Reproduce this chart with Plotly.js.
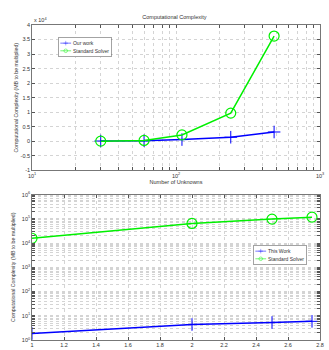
<!DOCTYPE html>
<html><head><meta charset="utf-8">
<script src="https://cdn.plot.ly/plotly-3.0.1.min.js"></script>
<style>html,body{margin:0;padding:0;background:#fff}#c{width:329px;height:350px}</style>
</head><body><div id="c"></div>
<script>
// Top chart data (values in units, axis shows x10^4)
const topUnknowns = [30, 60, 110, 240, 480];
const topOurWork = [100, 200, 600, 1400, 3200];
const topStandard = [50, 300, 2200, 9700, 36200];
const topYTickVals = [-10000, -5000, 0, 5000, 10000, 15000, 20000, 25000, 30000, 35000, 40000];
const topYTickText = ["-1", "-0.5", "0", "0.5", "1", "1.5", "2", "2.5", "3", "3.5", "4"];
const topXTickVals = [10, 20, 30, 40, 50, 60, 70, 80, 90, 100, 200, 300, 400, 500, 600, 700, 800, 900, 1000];
const topXTickText = ["10<sup>1</sup>", "", "", "", "", "", "", "", "", "10<sup>2</sup>", "", "", "", "", "", "", "", "", "10<sup>3</sup>"];

// Bottom chart data
const botX = [1, 2, 2.5, 2.75];
const botThisWork = [1.86, 4.37, 5.25, 5.89];
const botStandard = [15800, 64600, 97700, 117500];
const botYDecades = [1, 10, 100, 1000, 10000, 100000, 1000000];
const botYDecadeText = ["10<sup>0</sup>", "10<sup>1</sup>", "10<sup>2</sup>", "10<sup>3</sup>", "10<sup>4</sup>", "10<sup>5</sup>", "10<sup>6</sup>"];
const botYMinorMultipliers = [2, 3, 4, 5, 6, 7, 8, 9];
const botXTickVals = [1, 1.2, 1.4, 1.6, 1.8, 2, 2.2, 2.4, 2.6, 2.8];

// build tick arrays for the log axis (grid positions, not data)
const botYTickVals = [], botYTickText = [];
botYDecades.forEach((d, i) => {
  botYTickVals.push(d); botYTickText.push(botYDecadeText[i]);
  if (i < botYDecades.length - 1) botYMinorMultipliers.forEach(m => { botYTickVals.push(d * m); botYTickText.push(""); });
});

const blue = '#0000ff', green = '#00f000';
const tf = {family: 'Liberation Sans, Arial', size: 5.5, color: '#333'};
const gridc = '#d4d4d4';

const traces = [
  {x: topUnknowns, y: topOurWork, xaxis: 'x', yaxis: 'y', name: 'Our work', mode: 'lines+markers',
   line: {color: blue, width: 1.5}, marker: {symbol: 'cross-thin-open', size: 9, color: blue, line: {color: blue, width: 1}}, legend: 'legend'},
  {x: topUnknowns, y: topStandard, xaxis: 'x', yaxis: 'y', name: 'Standard Solver', mode: 'lines+markers',
   line: {color: green, width: 1.5}, marker: {symbol: 'circle-open', size: 10, color: green, line: {color: green, width: 1.2}}, legend: 'legend'},
  {x: botX, y: botThisWork, xaxis: 'x2', yaxis: 'y2', name: 'This Work', mode: 'lines+markers',
   line: {color: blue, width: 1.5}, marker: {symbol: 'cross-thin-open', size: 9, color: blue, line: {color: blue, width: 1}}, legend: 'legend2'},
  {x: botX, y: botStandard, xaxis: 'x2', yaxis: 'y2', name: 'Standard Solver', mode: 'lines+markers',
   line: {color: green, width: 1.5}, marker: {symbol: 'circle-open', size: 10, color: green, line: {color: green, width: 1.2}}, legend: 'legend2'}
];

const axBase = {showline: true, mirror: 'ticks', linecolor: '#555', linewidth: 0.8, ticks: 'inside', ticklen: 3, tickcolor: '#555',
  tickfont: tf, showgrid: true, gridcolor: gridc, griddash: 'dot', gridwidth: 1, zeroline: false, automargin: false};

const legendFont = {family: 'Liberation Sans, Arial', size: 14, color: '#333'};

const layout = {
  width: 329, height: 350,
  margin: {l: 32, r: 9, t: 25, b: 10, autoexpand: false},
  paper_bgcolor: '#fff', plot_bgcolor: '#fff',
  font: {family: 'Liberation Sans, Arial', size: 6, color: '#333'},
  showlegend: true,
  title: {text: 'Computational Complexity', font: {size: 5.5, color: '#333'}, x: 0.53, xanchor: 'center', y: 0.945, yanchor: 'bottom'},
  xaxis: Object.assign({}, axBase, {type: 'log', range: [1, 3], domain: [0, 1], anchor: 'y',
    tickvals: topXTickVals, ticktext: topXTickText,
    title: {text: 'Number of Unknowns', font: {size: 5.5, color: '#333'}, standoff: 1}}),
  yaxis: Object.assign({}, axBase, {range: [-10000, 40000], domain: [0.5385, 1], anchor: 'x',
    tickvals: topYTickVals, ticktext: topYTickText,
    title: {text: 'Computational Complexity (MB to be multiplied)', font: {size: 5.2, color: '#333'}, standoff: 1}}),
  xaxis2: Object.assign({}, axBase, {range: [1, 2.8], domain: [0, 1], anchor: 'y2',
    tickvals: botXTickVals}),
  yaxis2: Object.assign({}, axBase, {type: 'log', range: [0, 6], domain: [0, 0.4615], anchor: 'x2',
    tickvals: botYTickVals, ticktext: botYTickText,
    title: {text: 'Computational Complexity (MB to be multiplied)', font: {size: 5.2, color: '#333'}, standoff: 5}}),
  legend: {x: 0.09, y: 0.91, xanchor: 'left', yanchor: 'top', bgcolor: '#fff', bordercolor: '#555', borderwidth: 1.5,
    font: legendFont, itemwidth: 30, tracegroupgap: 0},
  legend2: {x: 0.77, y: 0.305, xanchor: 'left', yanchor: 'top', bgcolor: '#fff', bordercolor: '#555', borderwidth: 1.5,
    font: legendFont, itemwidth: 30, tracegroupgap: 0},
  annotations: [
    {text: 'x 10<sup>4</sup>', xref: 'paper', yref: 'paper', x: 0.0, y: 1.0, xanchor: 'left', yanchor: 'bottom', showarrow: false, font: {size: 5.5, color: '#333'}}
  ]
};

Plotly.newPlot('c', traces, layout, {displayModeBar: false, staticPlot: true}).then(() => {
  const place = {legend: [58, 37], legend2: [253, 245]};
  Object.keys(place).forEach(k => {
    const g = document.querySelector('g.' + k);
    if (g) g.setAttribute('transform', 'translate(' + place[k][0] + ',' + place[k][1] + ') scale(0.36)');
  });
});
</script>
</body></html>
